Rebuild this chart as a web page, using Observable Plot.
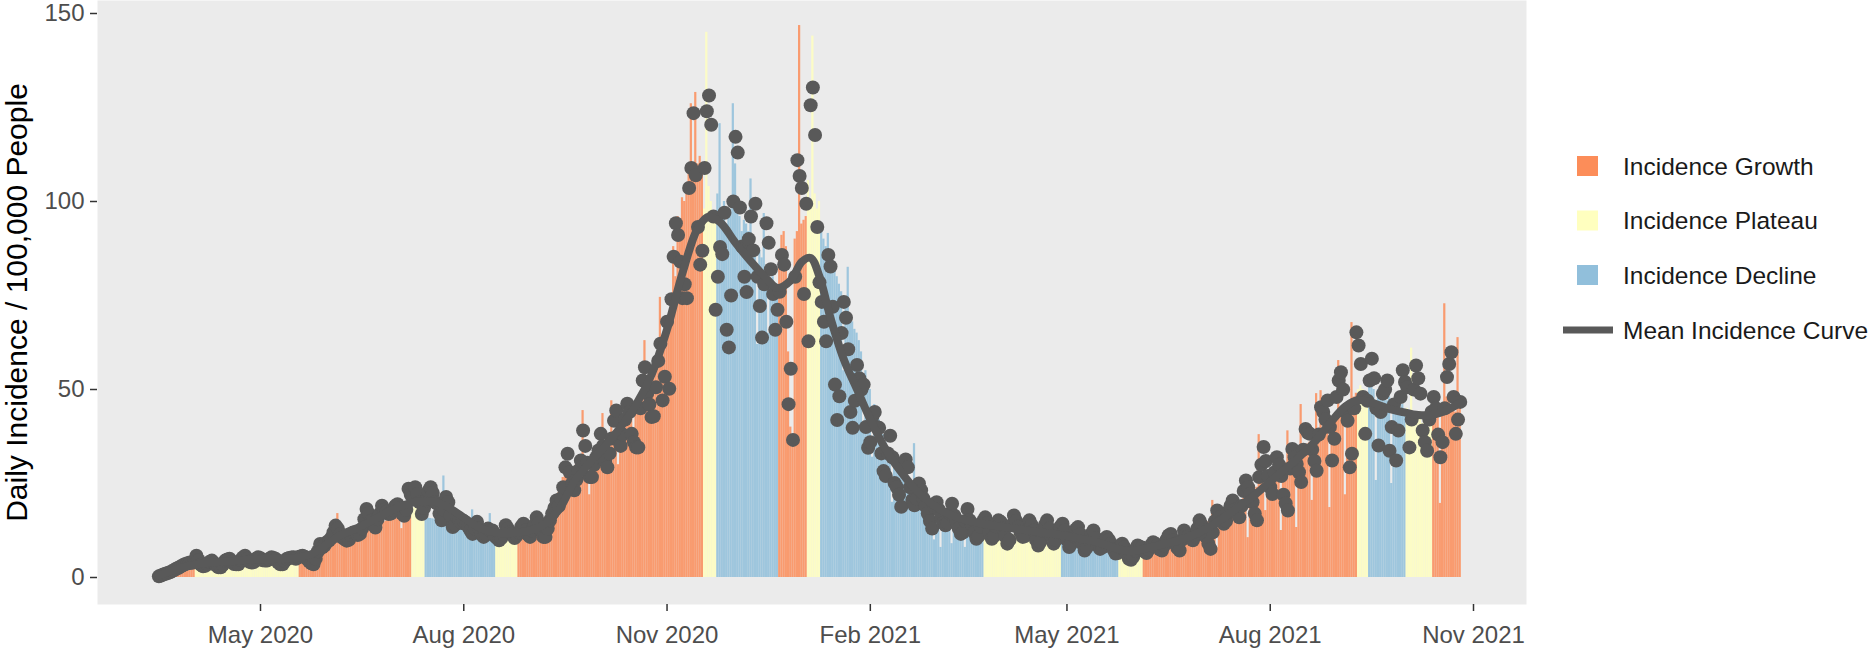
<!DOCTYPE html>
<html>
<head>
<meta charset="utf-8">
<script src="https://cdn.jsdelivr.net/npm/d3@7"></script>
<script src="https://cdn.jsdelivr.net/npm/@observablehq/plot@0.6"></script>
<style>
  body { margin: 0; background: #ffffff; }
  #chart { position: relative; width: 1874px; height: 650px; font-family: "Liberation Sans", Arial, sans-serif; }
  #chart svg { position: absolute; left: 0; top: 0; }
</style>
</head>
<body>
<div id="chart"></div>
<script>
// Daily series start on this date; one value per day.
const startDate = "2020-03-16";

// Daily incidence per 100,000 people (points), one row per week.
const incidence = [
  0.3, 0.5, 0.8, 1.0, 1.2, 1.4, 1.7,
  2.0, 2.4, 2.6, 3.0, 3.3, 3.6, 3.8,
  4.0, 3.9, 4.3, 5.8, 4.6, 3.4, 3.0,
  3.1, 3.6, 4.2, 4.5, 3.9, 3.2, 2.7,
  2.7, 3.4, 4.5, 4.8, 5.0, 4.2, 3.6,
  3.5, 3.5, 4.6, 5.3, 5.8, 5.0, 4.2,
  4.0, 4.1, 5.0, 5.4, 5.1, 4.6, 4.5,
  4.5, 4.9, 5.4, 5.2, 4.9, 4.0, 3.5,
  3.5, 4.4, 5.0, 5.2, 5.3, 5.4, 5.0,
  5.4, 5.6, 5.8, 5.5, 5.0, 4.3, 3.8,
  3.5, 5.0, 7.0, 8.9, 8.0, 8.5, 9.4,
  9.8, 10.5, 12.0, 13.8, 13.0, 11.5, 10.6,
  10.2, 9.8, 10.0, 11.2, 12.0, 11.8, 11.3,
  11.6, 13.0, 15.5, 18.2, 17.0, 15.1, 14.0,
  13.3, 15.5, 17.0, 19.1, 18.0, 17.5, 16.9,
  17.0, 18.0, 19.0, 19.5, 18.5, 17.0, 16.4,
  18.0, 23.6, 22.0, 21.5, 24.0, 22.2, 20.0,
  16.9, 18.5, 20.5, 23.0, 24.0, 22.5, 20.0,
  19.6, 17.0, 15.2, 18.0, 21.4, 20.0, 16.5,
  13.4, 14.0, 16.0, 15.2, 14.5, 15.0, 14.3,
  13.5, 12.5, 11.6, 13.0, 14.8, 13.0, 11.5,
  10.8, 11.5, 13.0, 12.5, 12.5, 11.0, 10.5,
  9.9, 10.5, 11.5, 13.9, 13.0, 12.0, 11.6,
  10.5, 11.2, 12.0, 13.5, 14.3, 12.5, 11.5,
  10.8, 12.5, 14.0, 16.0, 14.5, 12.5, 10.8,
  10.8, 13.0, 15.2, 17.0, 18.5, 20.5, 19.0,
  21.0, 24.0, 29.3, 32.9, 28.0, 25.0, 23.2,
  26.0, 28.5, 31.1, 39.1, 35.0, 30.5, 26.7,
  26.7, 30.0, 32.0, 33.8, 38.2, 35.0, 31.0,
  29.3, 33.0, 37.0, 41.7, 44.4, 36.4, 35.0,
  38.0, 42.0, 46.2, 44.0, 38.2, 36.0, 34.6,
  34.6, 45.0, 52.4, 55.9, 48.9, 46.0, 42.7,
  42.9, 50.6, 57.6, 62.2, 47.1, 53.4, 68.0,
  50.2, 74.0, 85.3, 94.2, 91.1, 84.0, 74.3,
  78.0, 74.3, 103.6, 108.9, 123.5, 107.0, 93.2,
  83.2, 86.9, 108.9, 124.0, 128.2, 120.4, 96.0,
  71.2, 80.0, 87.9, 86.0, 97.0, 65.9, 61.2,
  75.0, 100.0, 117.2, 113.0, 98.4, 88.0, 80.0,
  75.9, 90.0, 96.0, 87.0, 99.4, 80.0, 72.2,
  63.8, 78.0, 94.2, 89.0, 82.0, 75.4, 65.9,
  71.2, 76.0, 85.8, 83.2, 68.0, 46.1, 55.5,
  36.6, 80.0, 111.0, 106.8, 103.6, 75.4, 99.4,
  62.8, 125.6, 130.3, 117.7, 93.2, 78.5, 73.3,
  68.0, 62.8, 85.8, 82.7, 72.0, 51.3, 41.9,
  48.2, 65.0, 73.3, 69.1, 60.7, 44.0, 39.8,
  47.0, 56.5, 53.0, 50.0, 51.3, 40.0, 34.5,
  36.0, 42.9, 44.0, 40.0, 39.8, 33.0, 28.3,
  27.0, 33.0, 37.7, 32.0, 25.1, 24.0, 22.0,
  18.8, 30.2, 31.4, 29.3, 24.0, 20.6, 19.2,
  21.0, 25.0, 23.2, 21.0, 19.0, 17.0, 15.0,
  13.0, 18.7, 20.0, 18.0, 16.0, 14.5, 13.9,
  14.5, 17.0, 19.6, 16.5, 15.0, 13.0, 11.6,
  12.0, 15.0, 18.2, 15.2, 14.0, 12.0, 10.3,
  11.0, 13.5, 15.0, 16.0, 14.5, 12.0, 10.3,
  11.0, 13.5, 15.2, 14.8, 13.0, 11.0, 9.0,
  10.0, 14.0, 16.5, 15.0, 13.5, 12.0, 10.8,
  11.0, 13.5, 15.2, 14.0, 12.5, 10.0, 8.5,
  9.5, 12.5, 14.0, 15.2, 13.0, 11.0, 9.0,
  10.0, 12.0, 13.5, 14.3, 12.5, 10.0, 8.1,
  9.0, 11.0, 12.8, 13.4, 11.5, 9.0, 7.2,
  8.0, 10.0, 11.5, 12.5, 10.5, 8.5, 7.6,
  8.0, 9.5, 10.8, 10.0, 9.0, 7.5, 6.4,
  6.5, 8.0, 9.0, 8.0, 6.5, 5.0, 4.7,
  5.5, 7.2, 8.5, 8.1, 8.0, 7.0, 6.5,
  7.5, 8.5, 9.4, 9.0, 8.5, 7.5, 7.2,
  8.5, 10.0, 11.2, 11.6, 10.0, 9.0, 7.8,
  7.2, 10.0, 12.5, 11.5, 11.0, 10.5, 9.9,
  11.0, 13.0, 15.2, 14.0, 12.5, 10.8, 9.0,
  7.6, 12.0, 15.0, 17.8, 16.0, 15.0, 14.3,
  15.0, 17.5, 19.0, 20.5, 18.0, 17.0, 16.0,
  19.0, 23.0, 25.8, 24.0, 22.2, 20.0, 17.0,
  15.2, 26.7, 30.0, 34.7, 31.0, 27.0, 24.0,
  22.2, 28.0, 32.0, 30.0, 27.0, 22.0, 19.7,
  17.8, 29.0, 34.2, 32.0, 30.2, 28.0, 25.4,
  34.0, 39.5, 38.5, 38.2, 34.0, 31.0, 28.4,
  38.0, 45.3, 44.0, 42.0, 47.1, 40.0, 31.1,
  36.9, 48.0, 52.4, 54.6, 50.0, 44.0, 41.7,
  29.3, 32.9, 45.0, 65.2, 61.7, 56.8, 48.0,
  38.2, 47.0, 52.4, 58.2, 53.0, 45.0, 35.1,
  44.0, 48.9, 50.0, 52.4, 33.7, 40.0, 46.0,
  31.1, 39.1, 48.0, 55.1, 52.0, 50.6, 34.6,
  42.0, 50.0, 56.4, 53.0, 48.9, 39.1, 36.0,
  33.7, 42.0, 44.0, 48.0, 45.0, 38.0, 32.0,
  36.0, 45.0, 53.3, 56.8, 59.9, 48.0, 38.2,
  42.0, 46.7
];

// Daily bar heights, coloured by epidemic phase, one row per week.
const barHeights = [
  0.2, 0.3, 0.5, 0.7, 0.9, 1.0, 1.2,
  1.4, 1.6, 1.8, 2.0, 2.2, 2.4, 2.6,
  2.8, 3.0, 3.1, 3.2, 3.3, 3.4, 3.4,
  3.4, 3.5, 3.5, 3.6, 3.6, 3.6, 3.7,
  3.7, 3.7, 3.8, 3.8, 3.8, 3.9, 3.9,
  3.9, 4.0, 4.0, 4.0, 4.1, 4.1, 4.1,
  4.2, 4.2, 4.2, 4.3, 4.3, 4.3, 4.4,
  4.4, 4.4, 4.5, 4.5, 4.5, 4.6, 4.6,
  4.6, 4.7, 4.7, 4.7, 4.8, 4.8, 4.8,
  4.9, 5.0, 5.3, 5.6, 6.0, 6.3, 6.7,
  7.0, 7.3, 7.6, 8.0, 8.3, 8.6, 9.0,
  9.3, 9.6, 10.0, 10.3, 17.0, 10.7, 11.0,
  11.2, 11.4, 11.6, 11.8, 12.0, 12.2, 12.4,
  12.6, 12.8, 13.0, 13.2, 13.4, 13.6, 13.8,
  14.0, 14.2, 14.4, 14.6, 14.8, 15.0, 15.1,
  15.3, 15.5, 15.6, 15.8, 16.0, 13.0, 16.2,
  16.3, 16.4, 16.5, 18.5, 18.6, 18.7, 18.8,
  18.8, 18.6, 15.9, 15.8, 15.7, 15.6, 15.5,
  15.4, 15.3, 15.2, 27.0, 15.0, 14.8, 14.6,
  14.4, 14.2, 14.0, 13.8, 13.6, 13.4, 13.2,
  13.0, 12.8, 18.0, 12.4, 12.2, 12.0, 11.8,
  11.6, 11.4, 11.2, 17.0, 11.0, 10.8, 9.5,
  9.5, 9.5, 9.6, 9.6, 9.7, 9.7, 9.8,
  9.8, 9.9, 10.2, 10.6, 11.0, 11.4, 11.8,
  12.0, 12.5, 13.0, 13.5, 14.0, 14.5, 15.0,
  15.5, 16.0, 18.6, 19.0, 20.0, 21.0, 22.5,
  24.0, 26.6, 27.0, 28.0, 29.0, 27.0, 29.5,
  30.0, 28.0, 31.0, 44.4, 31.5, 32.0, 22.0,
  29.0, 33.0, 33.5, 34.0, 34.5, 43.6, 35.0,
  36.0, 36.5, 47.0, 38.0, 39.0, 30.0, 40.0,
  38.0, 40.0, 41.0, 42.0, 43.0, 36.0, 44.0,
  45.0, 46.0, 47.0, 63.0, 49.0, 50.0, 51.0,
  53.0, 55.0, 57.0, 74.5, 59.0, 61.0, 63.0,
  65.0, 70.0, 88.0, 80.0, 96.0, 92.0, 101.0,
  100.0, 105.0, 110.0, 126.0, 106.0, 129.0, 110.0,
  112.0, 108.0, 98.0, 145.0, 104.0, 100.0, 96.0,
  95.0, 102.0, 120.7, 98.0, 100.0, 94.0, 96.0,
  98.0, 126.0, 110.0, 100.0, 96.0, 92.0, 95.0,
  94.0, 92.0, 106.0, 90.0, 88.0, 62.0, 87.0,
  85.0, 96.8, 80.0, 65.0, 78.0, 80.0, 76.0,
  75.0, 85.0, 91.0, 92.0, 88.0, 60.0, 40.0,
  35.0, 90.0, 92.0, 146.8, 94.0, 95.0, 96.0,
  105.6, 100.0, 144.0, 102.0, 98.0, 100.0, 92.0,
  90.0, 88.0, 91.5, 85.0, 84.0, 82.0, 80.0,
  78.0, 76.0, 55.0, 72.0, 82.5, 70.0, 68.0,
  66.0, 65.0, 63.0, 60.0, 40.0, 55.0, 52.0,
  50.0, 32.0, 46.0, 44.0, 42.0, 40.0, 38.0,
  36.0, 34.0, 33.0, 20.0, 30.0, 31.0, 28.0,
  27.0, 26.0, 25.0, 24.0, 23.0, 22.0, 35.6,
  22.0, 21.0, 20.5, 20.0, 19.5, 19.0, 18.5,
  18.0, 10.0, 17.5, 17.0, 8.0, 16.5, 16.2,
  16.0, 15.8, 9.0, 15.5, 15.2, 15.0, 14.8,
  14.5, 8.0, 14.2, 14.0, 13.8, 13.6, 13.4,
  13.2, 13.0, 12.8, 12.7, 12.6, 12.5, 12.4,
  12.3, 12.2, 12.1, 12.0, 11.9, 11.8, 11.7,
  11.6, 11.5, 11.4, 11.3, 11.2, 11.1, 11.0,
  10.9, 10.8, 10.7, 10.6, 10.5, 10.4, 10.3,
  10.2, 10.1, 10.0, 9.9, 9.8, 9.7, 9.6,
  9.5, 9.4, 9.3, 9.8, 9.7, 9.6, 9.5,
  9.4, 9.3, 9.2, 9.1, 9.0, 8.9, 8.8,
  8.7, 8.6, 8.5, 8.4, 8.3, 8.2, 8.1,
  8.0, 7.9, 7.8, 7.7, 7.6, 7.5, 7.4,
  7.3, 7.2, 6.0, 5.9, 5.8, 5.7, 5.6,
  5.6, 5.6, 5.7, 5.8, 5.9, 7.0, 7.2,
  7.4, 7.6, 7.8, 8.0, 8.2, 8.4, 8.6,
  8.8, 9.0, 9.2, 9.4, 9.6, 9.8, 10.0,
  10.3, 10.6, 10.9, 11.2, 11.5, 11.8, 12.1,
  12.4, 12.8, 13.2, 13.6, 14.0, 14.4, 14.8,
  15.2, 20.5, 15.8, 8.0, 16.4, 16.8, 17.2,
  17.6, 18.0, 18.4, 18.8, 19.2, 19.6, 20.0,
  20.5, 21.0, 21.5, 10.6, 22.5, 23.0, 23.5,
  24.0, 38.0, 25.0, 25.5, 17.8, 26.5, 27.0,
  27.5, 28.0, 28.5, 29.0, 12.5, 30.0, 30.5,
  39.0, 31.5, 32.0, 32.5, 13.3, 33.5, 46.0,
  34.5, 35.0, 35.5, 36.0, 20.5, 37.0, 48.9,
  38.0, 49.7, 38.5, 39.0, 39.5, 18.6, 40.0,
  38.0, 42.0, 57.7, 44.0, 45.0, 22.0, 46.0,
  47.0, 67.8, 48.0, 49.0, 50.0, 51.0, 50.0,
  49.0, 48.0, 52.0, 51.0, 50.0, 25.8, 50.0,
  49.0, 48.0, 50.0, 47.0, 48.0, 25.0, 47.0,
  46.0, 47.0, 45.0, 46.0, 44.0, 45.0, 43.0,
  61.0, 44.0, 43.0, 42.0, 44.0, 41.0, 43.0,
  42.0, 40.0, 44.0, 48.0, 47.0, 45.0, 19.7,
  46.0, 72.8, 48.0, 47.0, 46.0, 45.0, 44.0,
  63.8, 46.0
];

// Phase periods: first day of each period and its phase.
const phaseStarts = [
  "2020-03-16", "2020-04-02", "2020-05-19", "2020-07-09", "2020-07-15",
  "2020-08-16", "2020-08-26", "2020-11-18", "2020-11-24", "2020-12-22",
  "2021-01-04", "2021-01-10", "2021-03-25", "2021-04-29", "2021-05-25",
  "2021-06-05", "2021-09-10", "2021-09-15", "2021-10-02", "2021-10-14"
];
const phaseCodes = [
  "G", "P", "G", "P", "D",
  "P", "G", "P", "D", "G",
  "P", "D", "P", "D", "P",
  "G", "P", "D", "P", "G"
];
const phaseCodeList = ["G", "P", "D"];
const phaseNames = ["Incidence Growth", "Incidence Plateau", "Incidence Decline"];
const phaseColors = ["#FC8D59", "#FFFFBF", "#91BFDB"];

// Smoothed mean incidence curve: day index from startDate and value.
const meanDayIndex = [
  0, 6, 13, 20, 27, 34, 41, 48, 55, 62, 69, 76, 83, 90, 97, 104, 111, 118,
  125, 132, 139, 146, 153, 160, 167, 174, 181, 188, 195, 202, 209, 216, 223,
  230, 237, 244, 249, 254, 261, 268, 275, 280, 286, 291, 295, 299, 304, 310,
  316, 322, 329, 336, 343, 350, 357, 364, 371, 378, 385, 392, 399, 406, 413,
  420, 427, 434, 440, 446, 453, 460, 467, 474, 481, 488, 495, 502, 509, 516,
  523, 530, 537, 543, 549, 556, 563, 570, 577, 583, 589
];
const meanValues = [
  0.6, 1.8, 3.0, 3.8, 4.1, 4.4, 4.7, 4.9, 5.0, 5.2, 6.2, 8.8, 11.5, 13.2, 15.3, 17.5, 19.3, 20.3,
  20.1, 18.3, 15.5, 13.0, 11.9, 11.8, 12.4, 14.0, 18.0, 25.5, 30.5, 35.0, 40.0, 46.0, 54.0,
  66.0, 81.0, 93.0, 96.0, 94.5, 89.0, 84.0, 79.5, 77.0, 79.0, 84.0, 85.0, 80.0, 69.0, 58.0,
  50.0, 42.0, 34.0, 28.0, 23.0, 19.5, 17.0, 15.5, 14.5, 13.8, 13.2, 12.6, 12.0, 11.5, 10.8,
  10.0, 9.0, 7.6, 7.0, 7.6, 8.6, 9.6, 11.0, 13.0, 15.5, 18.5, 21.5, 25.0, 28.5, 32.0,
  36.0, 41.0, 45.5, 47.2, 46.5, 45.0, 44.0, 43.2, 43.3, 44.5, 46.5
];

// Axis ticks and labels.
const xTickDates = ["2020-05-01", "2020-08-01", "2020-11-01", "2021-02-01", "2021-05-01", "2021-08-01", "2021-11-01"];
const yTickValues = [0, 50, 100, 150];
const yTitle = "Daily Incidence / 100,000 People";
const curveLabel = "Mean Incidence Curve";

const utc = s => new Date(s + "T00:00:00Z");
const t0 = utc(startDate);
const dayAt = i => d3.utcDay.offset(t0, i);
const phaseStartDates = phaseStarts.map(utc);
const phaseName = code => phaseNames[phaseCodeList.indexOf(code)];
function phaseOf(date) {
  let k = 0;
  for (let j = 0; j < phaseStartDates.length; j++) if (phaseStartDates[j] <= date) k = j;
  return phaseName(phaseCodes[k]);
}

const days = incidence.map((v, i) => {
  const date = dayAt(i);
  return {date, value: v, bar: barHeights[i], phase: phaseOf(date)};
});
const mean = meanDayIndex.map((i, k) => ({date: dayAt(i), value: meanValues[k]}));

const ink = "#595959";
const fontFamily = '"Liberation Sans", Arial, sans-serif';

const chart = Plot.plot({
  width: 1874,
  height: 650,
  marginLeft: 97,
  marginRight: 348,
  marginTop: 0,
  marginBottom: 46,
  style: {fontFamily, background: "transparent", color: "#4D4D4D", overflow: "visible"},
  x: {type: "utc", domain: [utc("2020-05-01"), utc("2021-11-01")], range: [260, 1473]},
  y: {domain: [0, 150], range: [577, 13]},
  color: {domain: phaseNames, range: phaseColors},
  marks: [
    Plot.frame({fill: "#EBEBEB", stroke: null}),
    Plot.rectY(days, {
      x1: d => d3.utcHour.offset(d.date, -12),
      x2: d => d3.utcHour.offset(d.date, 12),
      y: "bar",
      fill: "phase",
      fillOpacity: 0.85
    }),
    Plot.dot(days, {x: "date", y: "value", r: 7, fill: ink}),
    Plot.line(mean, {x: "date", y: "value", curve: "catmull-rom", stroke: ink, strokeWidth: 8}),
    Plot.axisX({
      ticks: xTickDates.map(utc),
      tickFormat: d3.utcFormat("%b %Y"),
      tickSize: 7,
      tickPadding: 14,
      fontSize: 24,
      stroke: "#333333",
      strokeWidth: 1.5,
      label: null
    }),
    Plot.axisY({
      ticks: yTickValues,
      tickSize: 7,
      tickPadding: 6,
      fontSize: 24,
      stroke: "#333333",
      strokeWidth: 1.5,
      label: null
    }),
    Plot.text([yTitle], {
      frameAnchor: "left",
      textAnchor: "middle",
      lineAnchor: "middle",
      dx: -80,
      rotate: -90,
      fontSize: 30,
      fill: "#000000"
    })
  ]
});

const root = document.getElementById("chart");
root.appendChild(chart);

// Legend on the right of the panel.
const legend = d3.select(root).append("svg")
  .attr("width", 1874).attr("height", 650)
  .style("font-family", fontFamily);

const rowY = [166, 220.5, 275, 330];
phaseNames.forEach((name, k) => {
  legend.append("rect")
    .attr("x", 1577).attr("y", rowY[k] - 10)
    .attr("width", 21).attr("height", 20)
    .attr("fill", phaseColors[k]);
  legend.append("text")
    .attr("x", 1623).attr("y", rowY[k])
    .attr("dy", "0.35em")
    .attr("font-size", 24.5)
    .attr("fill", "#1A1A1A")
    .text(name);
});
legend.append("line")
  .attr("x1", 1563).attr("x2", 1613)
  .attr("y1", rowY[3]).attr("y2", rowY[3])
  .attr("stroke", ink).attr("stroke-width", 7);
legend.append("text")
  .attr("x", 1623).attr("y", rowY[3])
  .attr("dy", "0.35em")
  .attr("font-size", 24.5)
  .attr("fill", "#1A1A1A")
  .text(curveLabel);
</script>
</body>
</html>
